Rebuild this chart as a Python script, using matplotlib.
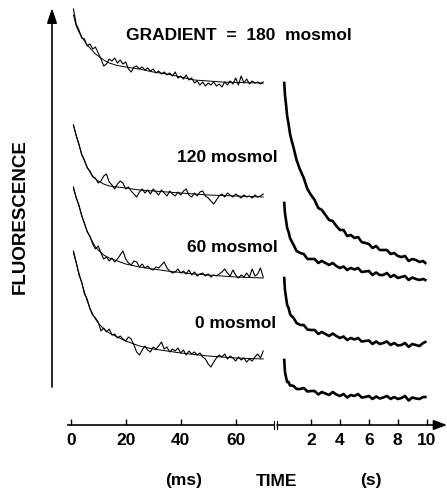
import matplotlib
matplotlib.use('Agg')
import matplotlib.pyplot as plt

plt.rcParams['font.family'] = ['Liberation Sans', 'DejaVu Sans']
plt.rcParams['font.weight'] = 'bold'

# Traces rapides (ms) - fluorescence en unites arbitraires
t_ms = [1, 2, 3, 4, 5, 6, 7, 8, 9, 10,
        11, 12, 13, 14, 15, 16, 17, 18, 19, 20,
        21, 22, 23, 24, 25, 26, 27, 28, 29, 30,
        31, 32, 33, 34, 35, 36, 37, 38, 39, 40,
        41, 42, 43, 44, 45, 46, 47, 48, 49, 50,
        51, 52, 53, 54, 55, 56, 57, 58, 59, 60,
        61, 62, 63, 64, 65, 66, 67, 68, 69, 70]

f180_ms = [416, 401, 395, 387, 386, 379, 381, 376, 378, 372,
           366, 359, 361, 366, 364, 367, 362, 365, 361, 363,
           356, 353, 358, 359, 356, 358, 355, 357, 354, 356,
           352, 354, 351, 353, 350, 352, 349, 353, 347, 349,
           346, 350, 345, 347, 342, 344, 340, 343, 339, 342,
           340, 343, 339, 341, 338, 343, 340, 344, 341, 347,
           340, 349, 342, 346, 341, 344, 342, 343, 341, 343]
f120_ms = [300, 289, 281, 270, 265, 257, 254, 248, 247, 242,
           244, 249, 251, 243, 240, 236, 241, 244, 242, 236,
           238, 234, 231, 228, 233, 236, 232, 235, 231, 236,
           233, 230, 235, 232, 229, 234, 231, 229, 233, 230,
           234, 236, 230, 228, 232, 229, 233, 234, 229, 227,
           224, 221, 225, 229, 231, 228, 232, 230, 228, 231,
           229, 227, 230, 228, 229, 227, 230, 228, 229, 231]
f60_ms = [238, 227, 220, 209, 202, 193, 189, 181, 176, 179,
          172, 166, 168, 164, 167, 163, 166, 170, 174, 166,
          162, 160, 164, 163, 158, 161, 157, 159, 156, 155,
          158, 157, 160, 163, 157, 154, 152, 153, 156, 152,
          154, 151, 155, 150, 153, 149, 151, 152, 149, 151,
          148, 150, 149, 151, 153, 156, 152, 149, 155, 150,
          147, 150, 148, 152, 148, 156, 149, 151, 157, 148]
f0_ms = [174, 163, 150, 143, 131, 126, 116, 110, 107, 103,
         94, 97, 93, 96, 90, 91, 87, 89, 86, 84,
         88, 86, 80, 73, 70, 75, 79, 75, 73, 78,
         76, 79, 83, 76, 78, 73, 76, 74, 77, 72,
         75, 70, 74, 71, 73, 70, 72, 68, 66, 61,
         58, 63, 67, 70, 68, 71, 66, 69, 67, 64,
         68, 65, 67, 63, 66, 64, 68, 71, 67, 74]

# Courbes ajustees
t_fit = [1, 2, 3, 4, 5, 6, 7, 8, 9, 10, 12, 14, 17, 20, 25, 30, 35, 40, 45, 50, 55, 60, 70]
fit180 = [410, 399, 393, 388, 384, 380, 377, 374, 371, 369, 365, 362, 359.5, 358, 356, 353, 351, 348, 345, 344, 343, 342.5, 342]
fit120 = [300, 290, 280, 271, 264, 258, 253, 249, 246, 244, 241, 239, 238, 237, 235, 234, 233, 232, 231, 230, 229.5, 229, 228]
fit60 = [236, 228, 219, 210, 201, 194, 188, 183, 178, 175, 170, 167, 164, 161, 158, 156, 154, 152.5, 151, 150, 149, 148, 147]
fit0 = [172, 162, 152, 142, 133, 124, 117, 111, 106, 102, 96, 92, 88, 84, 79, 76, 74, 72, 70.5, 69, 68, 67, 66]

# Traces lentes (s)
t_s = [0.15, 0.2, 0.27, 0.35, 0.45, 0.55, 0.65, 0.8, 1.0, 1.25,
       1.5, 1.75, 2.0, 2.25, 2.5, 2.75, 3.0, 3.25, 3.5, 3.75,
       4.0, 4.25, 4.5, 4.75, 5.0, 5.25, 5.5, 5.75, 6.0, 6.25,
       6.5, 6.75, 7.0, 7.25, 7.5, 7.75, 8.0, 8.25, 8.5, 8.75,
       9.0, 9.25, 9.5, 9.75, 9.9]
f180_s = [342, 330, 321, 309, 301, 291, 285, 277, 265, 255,
          247, 236, 230, 225, 217, 215, 210, 205, 204, 199,
          195, 195, 189, 190, 187, 188, 183, 182, 181, 177,
          179, 175, 175, 175, 171, 172, 169, 168, 169, 164,
          166, 165, 163, 164, 162]
f120_s = [222, 212, 205, 197, 193, 187, 184, 180, 174, 172,
          171, 166, 166, 166, 162, 164, 162, 160, 162, 159,
          157, 158.5, 155, 157, 155.5, 157, 153, 153.5, 154, 150,
          152.5, 150, 150, 152, 148, 150, 147, 148, 149, 145,
          147.5, 146, 145, 146, 145]
f60_s = [147, 135, 128, 120, 117, 111, 109, 107, 102, 100,
         100, 95.5, 95, 95, 91, 93, 91, 89, 91.5, 89,
         87, 88.5, 85, 87, 85.5, 87, 83.5, 84, 84.5, 81,
         83.5, 81, 82, 83.5, 80, 82, 79.5, 80, 82, 78,
         81, 80, 79, 82, 83]
f0_s = [65, 53, 48, 43, 43, 39.5, 39.5, 39, 36, 36,
        37, 33.5, 34, 34, 30.5, 33, 31.5, 30, 33, 30.5,
        29, 31, 27.5, 30, 29, 31, 27.5, 28, 29, 26,
        28.5, 26.5, 27.5, 29, 26, 28, 26, 27, 29, 24.5,
        27.5, 26.5, 26, 28, 28]

ms_ticks = [0, 20, 40, 60]
s_ticks = [2, 4, 6, 8, 10]

W, H = 447, 493
fig = plt.figure(figsize=(W / 100, H / 100), dpi=100)

ax1 = fig.add_axes([52 / W, (H - 425) / H, 223 / W, 425 / H])
ax2 = fig.add_axes([276 / W, (H - 425) / H, 171 / W, 425 / H])
for ax in (ax1, ax2):
    ax.set_ylim(0, 425)
    ax.patch.set_alpha(0)
    for sp in ax.spines.values():
        sp.set_visible(False)
    ax.set_yticks([])
ax1.set_xlim(-6.8, 74.3)
ax2.set_xlim(-0.42, 11.4)

# traces ms : donnees + ajustement
for y, yf in [(f180_ms, fit180), (f120_ms, fit120), (f60_ms, fit60), (f0_ms, fit0)]:
    ax1.plot(t_ms, y, color='black', lw=0.8)
    ax1.plot(t_fit, yf, color='black', lw=0.7)

# traces s
for y in [f180_s, f120_s, f60_s, f0_s]:
    ax2.plot(t_s, y, color='black', lw=1.9)

# axe des temps
ax1.spines['bottom'].set_visible(True)
ax1.spines['bottom'].set_bounds(-1, 74)
ax1.spines['bottom'].set_linewidth(1.2)
ax2.annotate('', xy=(11.4, 0), xytext=(-0.35, 0),
             arrowprops=dict(arrowstyle='-|>,head_length=0.8,head_width=0.3',
                             color='black', lw=1.2, shrinkA=0, shrinkB=0),
             annotation_clip=False)
ax1.plot([74, 74], [-4, 4], color='black', lw=0.8, clip_on=False)
ax2.plot([-0.35, -0.35], [-4, 4], color='black', lw=0.8, clip_on=False)

# axe de fluorescence
ax1.annotate('', xy=(-6.8, 417), xytext=(-6.8, 38),
             arrowprops=dict(arrowstyle='-|>,head_length=0.9,head_width=0.3',
                             color='black', lw=1.2, shrinkA=0, shrinkB=0),
             annotation_clip=False)

ax1.set_xticks(ms_ticks)
ax2.set_xticks(s_ticks)
for ax in (ax1, ax2):
    ax.tick_params(axis='x', direction='in', length=4, width=1, pad=6, labelsize=12.5)

# textes
ax1.text(61, 390, 'GRADIENT  =  180  mosmol', ha='center', va='center', fontsize=12.5)
ax1.text(75.4, 268, '120 mosmol', ha='right', va='center', fontsize=12.5, clip_on=False)
ax1.text(75.4, 178, '60 mosmol', ha='right', va='center', fontsize=12.5, clip_on=False)
ax1.text(74.8, 102, '0 mosmol', ha='right', va='center', fontsize=12.5, clip_on=False)

fig.text(20 / W, 1 - 217 / H, 'FLUORESCENCE', rotation=90, ha='center', va='center', fontsize=13.5)
fig.text(184 / W, 1 - 481 / H, '(ms)', ha='center', va='center', fontsize=12.5)
fig.text(276 / W, 1 - 481 / H, 'TIME', ha='center', va='center', fontsize=12.5)
fig.text(371 / W, 1 - 481 / H, '(s)', ha='center', va='center', fontsize=12.5)

fig.savefig('out.png', dpi=100)
